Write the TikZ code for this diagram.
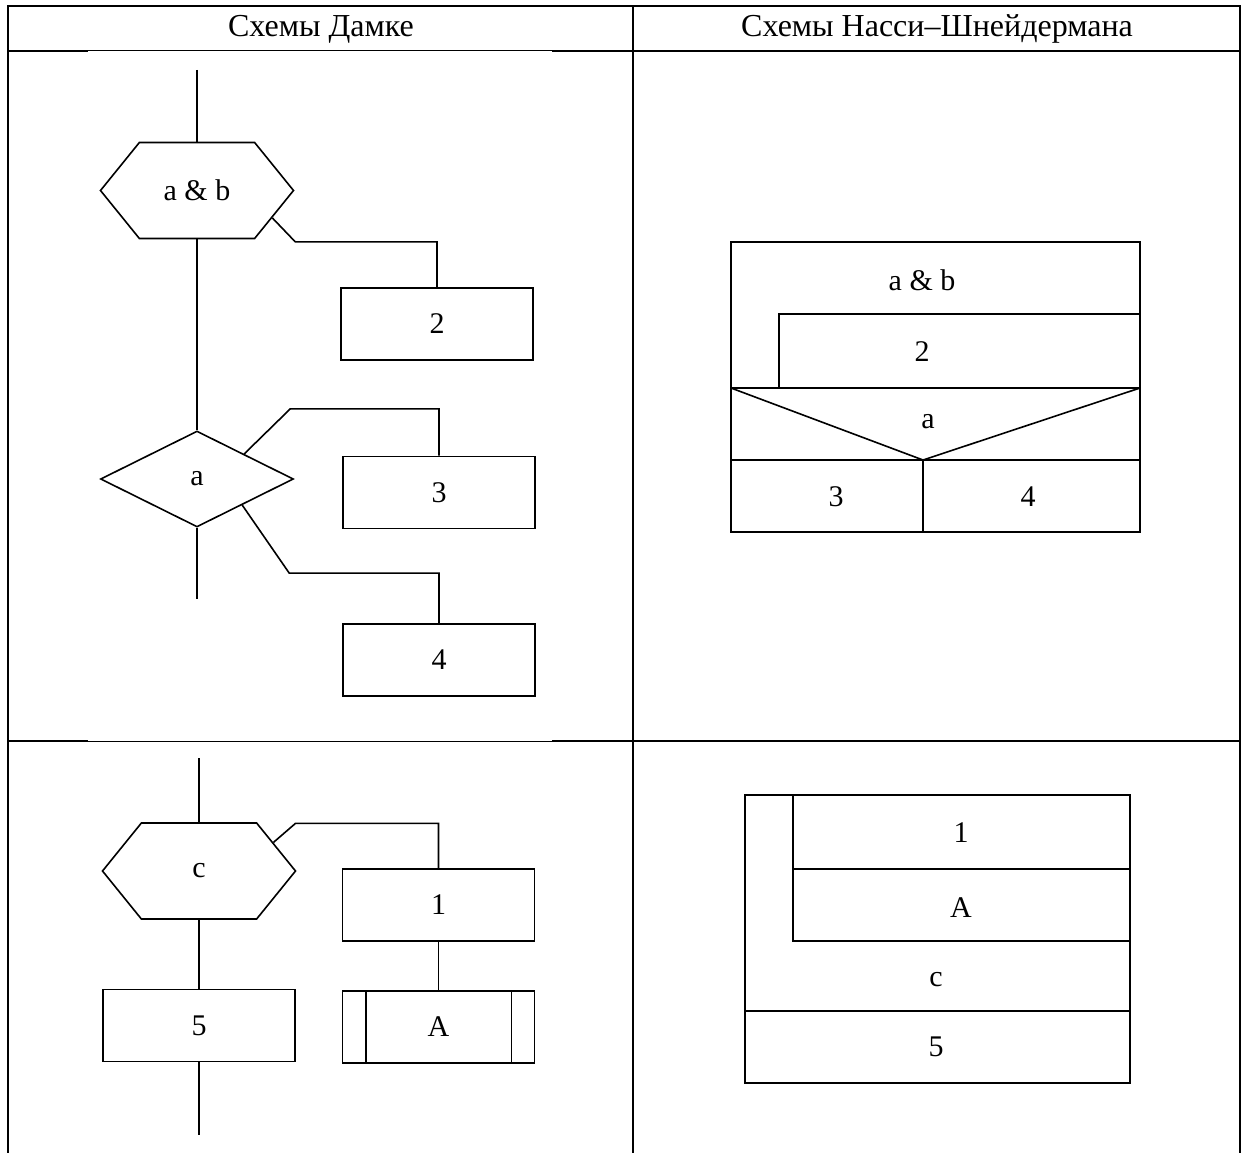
\documentclass[tikz,border=0pt]{standalone}
\usepackage{fontspec}
\setmainfont{Liberation Serif}
\usetikzlibrary{shapes.geometric,shapes.symbols}

\tikzset{
  every node/.style={font=\fontsize{30}{36}\selectfont},
  grid/.style={line width=2pt},
  thin grid/.style={line width=1pt},
  ln/.style={line width=1.6pt},
  blk/.style={draw, ln, rectangle, inner sep=0pt, minimum width=192pt, minimum height=72pt},
  hexa/.style={draw, ln, signal, signal to=west and east, signal pointer angle=102,
    inner sep=0pt, minimum width=193pt, minimum height=96pt},
  cond/.style={draw, ln, diamond, inner sep=0pt, minimum width=193pt, minimum height=96pt},
  lbl/.style={inner sep=0pt},
  head/.style={inner sep=0pt, anchor=base, font=\fontsize{32}{38}\selectfont},
}

\begin{document}
\begin{tikzpicture}[x=1pt,y=-1pt]
\useasboundingbox (0,0) rectangle (1242,1153);

% table
\draw[grid] (8,1153) -- (8,6) -- (1240,6) -- (1240,1153);
\draw[grid] (633,6) -- (633,1153);
\draw[grid] (8,51) -- (88,51);
\draw[thin grid] (88,51) -- (552,51);
\draw[grid] (552,51) -- (1240,51);
\draw[grid] (8,741) -- (88,741);
\draw[thin grid] (88,741) -- (552,741);
\draw[grid] (552,741) -- (1240,741);
\node[head] (headL) at (321,37) {Схемы Дамке};
\node[head] (headR) at (937,37) {Схемы Насси–Шнейдермана};

% Damke, top
\coordinate (in1) at (197,70);
\node[hexa] (ab) at (197,190.5) {a \& b};
\node[blk] (b2) at (437,324) {2};
\node[cond] (ca) at (197,479) {a};
\node[blk] (b3) at (439,492.5) {3};
\node[blk] (b4) at (439,660) {4};
\coordinate (out1) at (197,599);

\draw[ln] (in1) -- (ab.north);
\draw[ln] (ab.south) -- (ca.north);
\draw[ln] (ca.south) -- (out1);
\draw[ln] (ab.-20) -- ++(23,24) -| (b2.north);
\draw[ln] (ca.28) -- ++(46,-45) -| (b3.north);
\draw[ln] (ca.-30) -- ++(47,68) -| (b4.north);

% Damke, bottom
\coordinate (in2) at (199,758);
\node[hexa] (c) at (199,871) {c};
\node[blk] (b1) at (438.5,905) {1};
\node[blk] (bA) at (438.5,1027) {A};
\node[blk] (b5) at (199,1025.5) {5};
\coordinate (out2) at (199,1135);

\draw[ln] ([xshift=24pt]bA.north west) -- ([xshift=24pt]bA.south west);
\draw[ln] ([xshift=-24pt]bA.north east) -- ([xshift=-24pt]bA.south east);
\draw[ln] (in2) -- (c.north);
\draw[ln] (c.south) -- (b5.north);
\draw[ln] (b5.south) -- (out2);
\draw[ln] (c.21) -- ++(22,-19) -| (b1.north);
\draw[ln] (b1.south) -- (bA.north);

% Nassi-Shneiderman, top
\draw[ln] (731,242) rectangle (1140,532);
\draw[ln] (779,388) -- (779,314) -- (1140,314);
\draw[ln] (731,388) -- (1140,388);
\draw[ln] (731,388) -- (923,460) -- (1140,388);
\draw[ln] (731,460) -- (1140,460);
\draw[ln] (923,460) -- (923,532);
\node[lbl] (nab) at (922,280) {a \& b};
\node[lbl] (n2) at (922,352) {2};
\node[lbl] (na) at (928,422) {a};
\node[lbl] (n3) at (836,497) {3};
\node[lbl] (n4) at (1028,497) {4};

% Nassi-Shneiderman, bottom
\draw[ln] (745,795) rectangle (1130,1083);
\draw[ln] (793,795) -- (793,941) -- (1130,941);
\draw[ln] (793,869) -- (1130,869);
\draw[ln] (745,1011) -- (1130,1011);
\node[lbl] (n1) at (961,833) {1};
\node[lbl] (nA) at (961,908) {A};
\node[lbl] (nc) at (936,980) {c};
\node[lbl] (n5) at (936,1047) {5};
\end{tikzpicture}
\end{document}
